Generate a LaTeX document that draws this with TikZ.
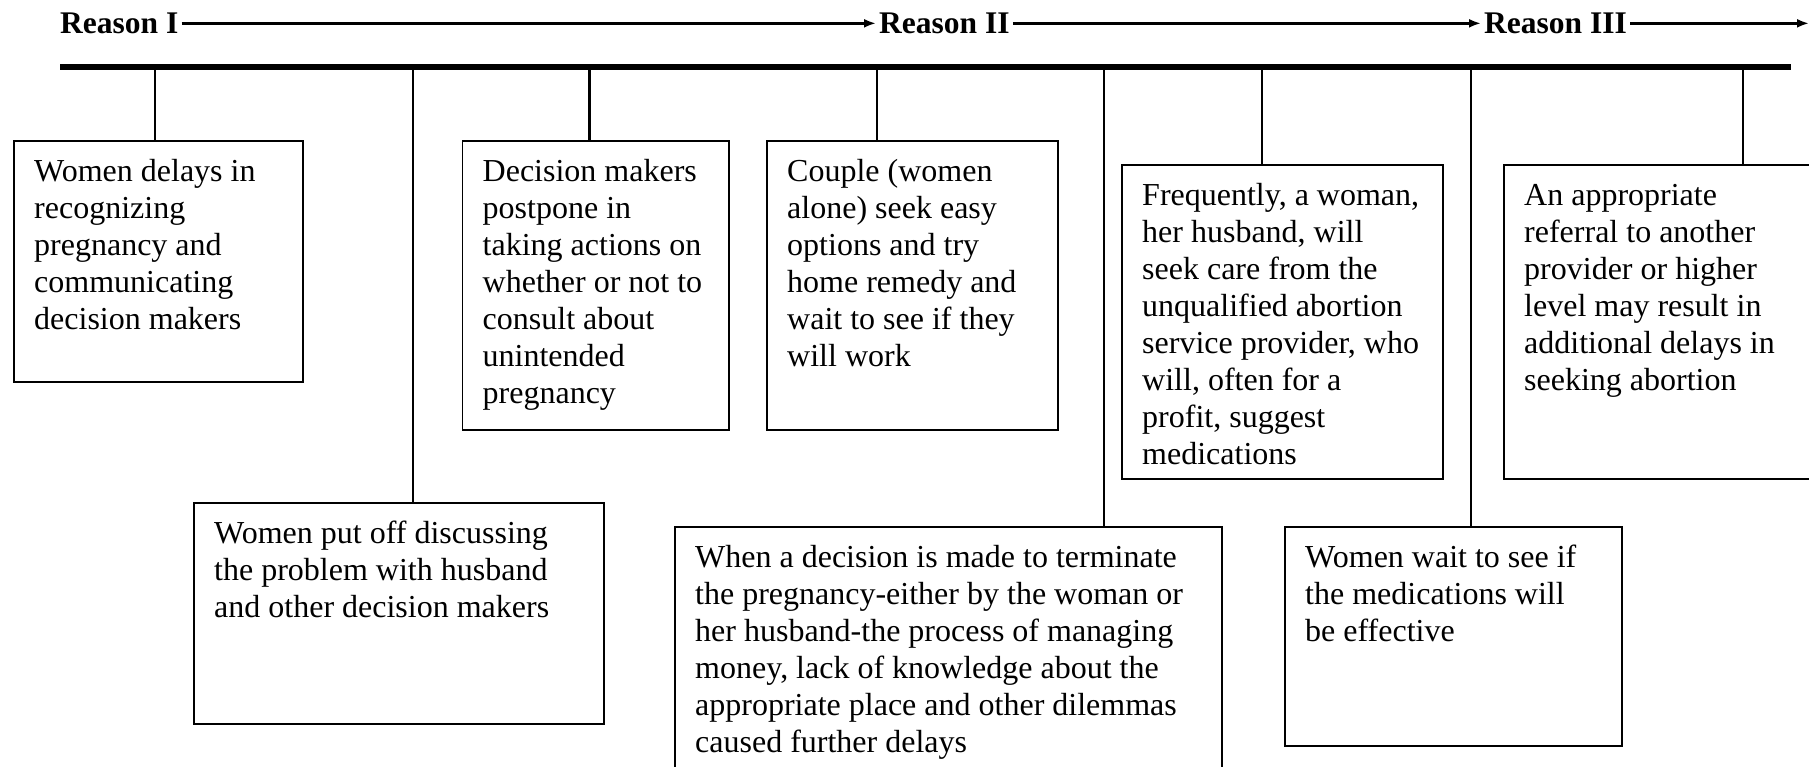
\documentclass[tikz,border=0pt]{standalone}
\usepackage{fontspec}
\setmainfont{Liberation Serif}
\usetikzlibrary{arrows.meta}
\begin{document}
\begin{tikzpicture}[x=1pt,y=-1pt,
  causebox/.style={draw, line width=1.8pt, anchor=north west, inner sep=0pt},
  causetext/.style={anchor=north west, inner sep=0pt, align=left,
                    font=\fontsize{32}{37}\selectfont},
  reason/.style={anchor=base west, inner xsep=3pt, inner ysep=0pt,
                 font=\bfseries\fontsize{31.5}{37}\selectfont},
  flow/.style={line width=2.6pt, -{Latex[length=12pt,width=9pt]}},
  timeline/.style={line width=5.5pt},
  drop/.style={line width=2.8pt}]
\useasboundingbox (0,0) rectangle (1809,767);
\clip (0,0) rectangle (1809,767);

% reasons along the top
\node[reason] (r1) at (57,33.5) {Reason I};
\node[reason] (r2) at (876,33.5) {Reason II};
\node[reason] (r3) at (1481,33.5) {Reason III};
\coordinate (edge) at (1809,23);
\draw[flow] (r1) -- (r2);
\draw[flow] (r2) -- (r3);
\draw[flow] (r3) -- (r3 -| edge);

% time line
\coordinate (barL) at (60,67);
\coordinate (barR) at (1791,67);
\draw[timeline] (barL) -- (barR);

% upper row of boxes
\node[causebox, minimum width=289pt, minimum height=241pt] (b1) at (13,140) {};
\node[causetext] (t1) at ([shift={(21,15)}]b1.north west)
  {\strut Women delays in\\recognizing\\pregnancy and\\communicating\\decision makers};

\node[causebox, minimum width=266.5pt, minimum height=289pt] (b2) at (461.5,140) {};
\node[causetext] (t2) at ([shift={(21,15)}]b2.north west)
  {\strut Decision makers\\postpone in\\taking actions on\\whether or not to\\consult about\\unintended\\pregnancy};

\node[causebox, minimum width=291pt, minimum height=289pt] (b3) at (766,140) {};
\node[causetext] (t3) at ([shift={(21,15)}]b3.north west)
  {\strut Couple (women\\alone) seek easy\\options and try\\home remedy and\\wait to see if they\\will work};

\node[causebox, minimum width=321pt, minimum height=314pt] (b4) at (1121,164) {};
\node[causetext] (t4) at ([shift={(21,15)}]b4.north west)
  {\strut Frequently, a woman,\\her husband, will\\seek care from the\\unqualified abortion\\service provider, who\\will, often for a\\profit, suggest\\medications};

\node[causebox, minimum width=340pt, minimum height=314pt] (b8) at (1503,164) {};
\node[causetext] (t8) at ([shift={(21,15)}]b8.north west)
  {\strut An appropriate\\referral to another\\provider or higher\\level may result in\\additional delays in\\seeking abortion};

% lower row of boxes
\node[causebox, minimum width=410pt, minimum height=221pt] (b5) at (193,502) {};
\node[causetext] (t5) at ([shift={(21,15)}]b5.north west)
  {\strut Women put off discussing\\the problem with husband\\and other decision makers};

\node[causebox, minimum width=547pt, minimum height=270pt] (b6) at (674,526) {};
\node[causetext] (t6) at ([shift={(21,15)}]b6.north west)
  {\strut When a decision is made to terminate\\the pregnancy-either by the woman or\\her husband-the process of managing\\money, lack of knowledge about the\\appropriate place and other dilemmas\\caused further delays};

\node[causebox, minimum width=337pt, minimum height=219pt] (b7) at (1284,526) {};
\node[causetext] (t7) at ([shift={(21,15)}]b7.north west)
  {\strut Women wait to see if\\the medications will\\be effective};

% drops from the time line
\coordinate (d1) at (155,67);
\coordinate (d2) at (413,67);
\coordinate (d3) at (589.5,67);
\coordinate (d4) at (877,67);
\coordinate (d5) at (1104,67);
\coordinate (d6) at (1262,67);
\coordinate (d7) at (1471,67);
\coordinate (d8) at (1743,67);
\draw[drop] (d1) -- (d1 |- b1.north);
\draw[drop] (d2) -- (d2 |- b5.north);
\draw[drop] (d3) -- (d3 |- b2.north);
\draw[drop] (d4) -- (d4 |- b3.north);
\draw[drop] (d5) -- (d5 |- b6.north);
\draw[drop] (d6) -- (d6 |- b4.north);
\draw[drop] (d7) -- (d7 |- b7.north);
\draw[drop] (d8) -- (d8 |- b8.north);
\end{tikzpicture}
\end{document}
